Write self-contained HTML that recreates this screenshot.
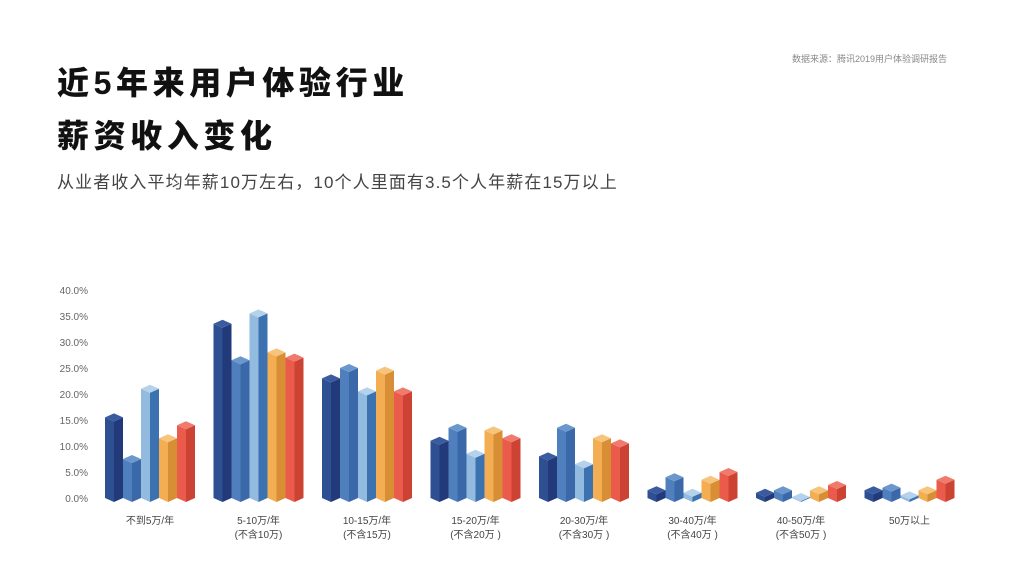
<!DOCTYPE html>
<html><head><meta charset="utf-8">
<style>
body{margin:0;background:#fff;width:1027px;height:568px;overflow:hidden;font-family:"Liberation Sans","Noto Sans CJK SC",sans-serif;}
.t{position:absolute;left:57px;font-weight:900;font-size:32px;letter-spacing:4.6px;color:#111;}
</style></head><body>
<div class="t" style="top:58px">近5年来用户体验行业</div>
<div class="t" style="top:111px">薪资收入变化</div>
<div style="position:absolute;left:57px;top:168px;font-size:17px;letter-spacing:1.1px;color:#444;">从业者收入平均年薪10万左右，10个人里面有3.5个人年薪在15万以上</div>
<div style="position:absolute;left:792px;top:52px;font-size:9px;color:#888;">数据来源：腾讯2019用户体验调研报告</div>
<svg id="chart" width="1027" height="568" style="position:absolute;left:0;top:0"></svg>
<script>
const categories=["不到5万/年","5-10万/年\n(不含10万)","10-15万/年\n(不含15万)","15-20万/年\n(不含20万 )","20-30万/年\n(不含30万 )","30-40万/年\n(不含40万 )","40-50万/年\n(不含50万 )","50万以上"];
const s1=[15.5,33.5,23,11,8,1.5,1,1.5];
const s2=[7.5,26.5,25,13.5,13.5,4,1.5,2];
const s3=[21,35.5,20.5,8.5,6.5,1,0.2,0.5];
const s4=[11.5,28,24.5,13,11.5,3.5,1.5,1.5];
const s5=[14,27,20.5,11.5,10.5,5,2.5,3.5];
const ticks=[0,5,10,15,20,25,30,35,40];
const series=[s1,s2,s3,s4,s5];
const colors=[["#2f4f93","#22397a","#3a5ba0"],["#4f80bd","#3b68a8","#6a98cc"],["#93bbe0","#3d72b0","#b5d2ec"],["#f3ad52","#d88e34","#f7c47c"],["#ea5b4c","#cc4233","#f07a6c"]];
const svg=document.getElementById('chart');const NS="http://www.w3.org/2000/svg";
const y0=498,py=5.2;const yv=v=>y0-v*py;
const gx=i=>105+i*108.5;const bw=18;
function el(t,a,p){const e=document.createElementNS(NS,t);for(const k in a)e.setAttribute(k,a[k]);(p||svg).appendChild(e);return e;}
ticks.forEach(t=>{const e=el('text',{x:88,y:yv(t)+4,'text-anchor':'end','font-size':10,fill:'#666'});e.textContent=t.toFixed(1)+'%';

});
categories.forEach((c,i)=>{
 series.forEach((s,j)=>{
  const x=gx(i)+j*bw,h=s[i]*py,top=y0-h,d=4,m=x+bw/2,col=colors[j];
  const g=el('g',{});
  
  
  el('polygon',{points:`${x},${top} ${m},${top+d} ${m},${y0+d} ${x},${y0}`,fill:col[0]},g);
  el('polygon',{points:`${m},${top+d} ${x+bw},${top} ${x+bw},${y0} ${m},${y0+d}`,fill:col[1]},g);
  el('polygon',{points:`${x},${top} ${m},${top-d} ${x+bw},${top} ${m},${top+d}`,fill:col[2]},g);
 });
 const lines=c.split('\n');
 lines.forEach((l,k)=>{const e=el('text',{x:gx(i)+45,y:524+k*14,'text-anchor':'middle','font-size':10,fill:'#444'});e.textContent=l;
 
 });
});
</script>
</body></html>
